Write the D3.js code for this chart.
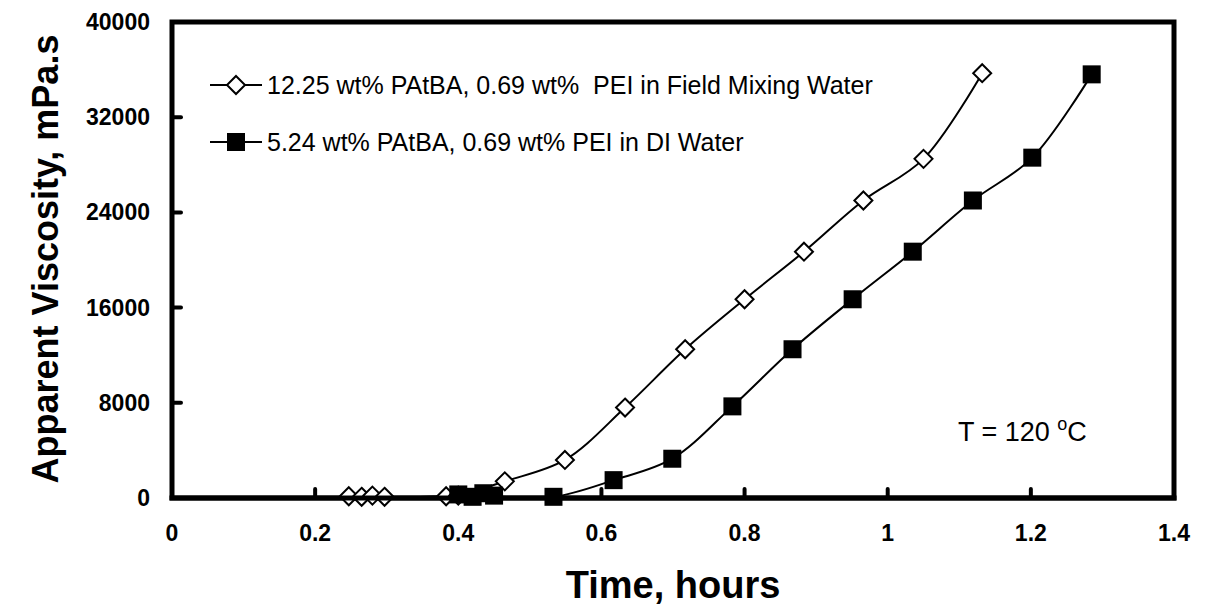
<!DOCTYPE html>
<html>
<head>
<meta charset="utf-8">
<script src="https://cdn.jsdelivr.net/npm/d3@7"></script>
<style>
  body { margin: 0; background: #fff; }
  text { font-family: Arial, "Liberation Sans", sans-serif; white-space: pre; }
</style>
</head>
<body>
<div id="chart"></div>
<script>
// Series: [time in hours, apparent viscosity in mPa.s]
const fieldWaterTime = [0.247, 0.265, 0.28, 0.297, 0.383, 0.40, 0.465, 0.549, 0.633, 0.717, 0.80, 0.883, 0.966, 1.05, 1.132];
const fieldWaterVisc = [150, 100, 200, 100, 150, 200, 1400, 3200, 7600, 12500, 16700, 20700, 25000, 28500, 35700];

const diWaterTime = [0.40, 0.42, 0.435, 0.45, 0.533, 0.617, 0.699, 0.783, 0.867, 0.951, 1.035, 1.119, 1.202, 1.285];
const diWaterVisc = [300, 100, 400, 200, 100, 1500, 3300, 7700, 12500, 16700, 20700, 25000, 28600, 35600];

const xTicks = [0, 0.2, 0.4, 0.6, 0.8, 1, 1.2, 1.4];
const yTicks = [0, 8000, 16000, 24000, 32000, 40000];

const legendLabels = [
  "12.25 wt% PAtBA, 0.69 wt%  PEI in Field Mixing Water",
  "5.24 wt% PAtBA, 0.69 wt% PEI in DI Water"
];

const width = 1209, height = 614;
const margin = {left: 172, right: 35, top: 22, bottom: 116};

const svg = d3.select("#chart")
  .append("svg")
  .attr("width", width)
  .attr("height", height);

const x = d3.scaleLinear().domain([0, 1.4]).range([margin.left, width - margin.right]);
const y = d3.scaleLinear().domain([0, 40000]).range([height - margin.bottom, margin.top]);

// Plot frame
svg.append("rect")
  .attr("x", x(0))
  .attr("y", y(40000))
  .attr("width", x(1.4) - x(0))
  .attr("height", y(0) - y(40000))
  .attr("fill", "none")
  .attr("stroke", "#000")
  .attr("stroke-width", 5);

// Inward ticks
svg.selectAll(".ytick")
  .data(yTicks.slice(1, -1))
  .enter().append("line")
  .attr("x1", x(0)).attr("x2", x(0) + 9)
  .attr("y1", d => y(d)).attr("y2", d => y(d))
  .attr("stroke", "#000").attr("stroke-width", 4).attr("stroke-linecap", "round");

svg.selectAll(".xtick")
  .data(xTicks.slice(1, -1))
  .enter().append("line")
  .attr("x1", d => x(d)).attr("x2", d => x(d))
  .attr("y1", y(0)).attr("y2", y(0) - 9)
  .attr("stroke", "#000").attr("stroke-width", 4).attr("stroke-linecap", "round");

// Tick labels
svg.selectAll(".ylab")
  .data(yTicks)
  .enter().append("text")
  .attr("x", x(0) - 22)
  .attr("y", d => y(d) + 8)
  .attr("text-anchor", "end")
  .attr("font-size", "23px")
  .attr("font-weight", "bold")
  .text(d => d);

svg.selectAll(".xlab")
  .data(xTicks)
  .enter().append("text")
  .attr("x", d => x(d))
  .attr("y", y(0) + 43)
  .attr("text-anchor", "middle")
  .attr("font-size", "23px")
  .attr("font-weight", "bold")
  .text(d => d);

// Axis titles
svg.append("text")
  .attr("x", (x(0) + x(1.4)) / 2)
  .attr("y", 598)
  .attr("text-anchor", "middle")
  .attr("font-size", "38px")
  .attr("font-weight", "bold")
  .text("Time, hours");

svg.append("text")
  .attr("transform", "translate(58," + 259 + ") rotate(-90)")
  .attr("text-anchor", "middle")
  .attr("font-size", "36px")
  .attr("font-weight", "bold")
  .text("Apparent Viscosity, mPa.s");

// Smoothed lines, like the spreadsheet's smoothed curves
const line = d3.line()
  .x(d => x(d[0]))
  .y(d => y(d[1]))
  .curve(d3.curveCatmullRom.alpha(0.5));

const fieldData = fieldWaterTime.map((t, i) => [t, fieldWaterVisc[i]]);
const diData = diWaterTime.map((t, i) => [t, diWaterVisc[i]]);

svg.append("path")
  .datum(fieldData)
  .attr("d", line)
  .attr("fill", "none")
  .attr("stroke", "#000")
  .attr("stroke-width", 2);

svg.append("path")
  .datum(diData)
  .attr("d", line)
  .attr("fill", "none")
  .attr("stroke", "#000")
  .attr("stroke-width", 2);

const MARK = 9; // half size of markers

function diamond(g, cx, cy) {
  g.append("path")
    .attr("d", `M${cx},${cy - MARK}L${cx + MARK},${cy}L${cx},${cy + MARK}L${cx - MARK},${cy}Z`)
    .attr("fill", "#fff")
    .attr("stroke", "#000")
    .attr("stroke-width", 2);
}

function square(g, cx, cy) {
  g.append("rect")
    .attr("x", cx - MARK)
    .attr("y", cy - MARK)
    .attr("width", MARK * 2)
    .attr("height", MARK * 2)
    .attr("fill", "#000");
}

const markers = svg.append("g");
fieldData.forEach(d => diamond(markers, x(d[0]), y(d[1])));
diData.forEach(d => square(markers, x(d[0]), y(d[1])));

// redraw bottom frame edge over the markers sitting on it
svg.append("line")
  .attr("x1", x(0) - 2.5).attr("x2", x(1.4) + 2.5)
  .attr("y1", y(0)).attr("y2", y(0))
  .attr("stroke", "#000").attr("stroke-width", 5);

// Legend
const legend = svg.append("g");
legendLabels.forEach((label, i) => {
  const ly = 85 + i * 57;
  legend.append("line")
    .attr("x1", 210).attr("x2", 262)
    .attr("y1", ly).attr("y2", ly)
    .attr("stroke", "#000").attr("stroke-width", 2);
  if (i == 0) diamond(legend, 236, ly);
  else square(legend, 236, ly);
  legend.append("text")
    .attr("x", 267)
    .attr("y", ly + 9)
    .attr("font-size", "25px")
    .text(label);
});

// Temperature note
const note = svg.append("text")
  .attr("x", 958)
  .attr("y", 441)
  .attr("font-size", "27px");
note.append("tspan").text("T = 120 ");
note.append("tspan").attr("dy", -11).attr("font-size", "18px").text("o");
note.append("tspan").attr("dy", 11).text("C");
</script>
</body>
</html>
